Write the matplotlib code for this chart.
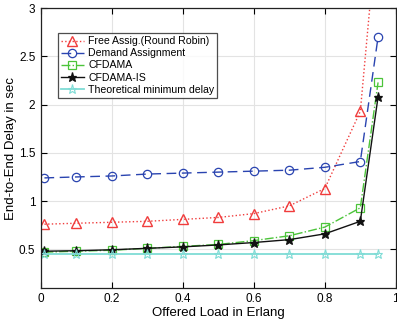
import matplotlib
matplotlib.use("Agg")
import matplotlib.pyplot as plt

plt.rcParams['font.family'] = ['Liberation Sans', 'DejaVu Sans']

load = [0.01, 0.1, 0.2, 0.3, 0.4, 0.5, 0.6, 0.7, 0.8, 0.9, 0.95]
free_assig = [0.76, 0.77, 0.78, 0.79, 0.81, 0.83, 0.87, 0.95, 1.13, 1.93, 3.95]
demand = [1.24, 1.25, 1.26, 1.28, 1.29, 1.30, 1.31, 1.32, 1.35, 1.41, 2.70]
cfdama = [0.47, 0.48, 0.49, 0.51, 0.53, 0.55, 0.59, 0.64, 0.73, 0.93, 2.23]
cfdama_is = [0.48, 0.485, 0.495, 0.51, 0.525, 0.545, 0.57, 0.60, 0.66, 0.79, 2.08]
theo = [0.45] * len(load)

labels = ['Free Assig.(Round Robin)', 'Demand Assignment', 'CFDAMA',
          'CFDAMA-IS', 'Theoretical minimum delay']

fig = plt.figure(figsize=(3.97, 3.26), dpi=100)
ax = fig.add_axes([0.103, 0.117, 0.894, 0.858])

ax.plot(load, free_assig, color='#f03c3c', linestyle=':', marker='^', ms=6.5,
        mfc='none', mew=1.0, lw=1.0, label=labels[0])
ax.plot(load, demand, color='#2a44b0', linestyle=(0, (7, 4)), marker='o', ms=6,
        mfc='none', mew=0.9, lw=1.0, label=labels[1])
ax.plot(load, cfdama, color='#4cc43a', linestyle='-.', marker='s', ms=5.5,
        mfc='none', mew=0.9, lw=1.0, label=labels[2])
ax.plot(load, cfdama_is, color='#111111', linestyle='-', marker='*', ms=6.5,
        mew=0.9, lw=1.0, label=labels[3])
ax.plot(load, theo, color='#7fdcd6', linestyle='-', marker='*', ms=6.5,
        mfc='none', mew=0.8, lw=1.3, label=labels[4])

ax.set_xlim(0, 1)
ax.set_ylim(0.1, 3)
ax.set_xticks([0, 0.2, 0.4, 0.6, 0.8, 1])
ax.set_xticklabels(['0', '0.2', '0.4', '0.6', '0.8', '1'])
ax.set_yticks([0.5, 1, 1.5, 2, 2.5, 3])
ax.set_yticklabels(['0.5', '1', '1.5', '2', '2.5', '3'])
ax.tick_params(direction='in', top=True, right=True, labelsize=8.5, length=4,
               width=0.8, pad=4)
ax.grid(True, color='#e3e3e3', lw=0.8)
ax.set_axisbelow(True)
for s in ax.spines.values():
    s.set_linewidth(0.9)
    s.set_color('#222222')

ax.set_xlabel('Offered Load in Erlang', fontsize=9.5, labelpad=1)
ax.set_ylabel('End-to-End Delay in sec', fontsize=9.5, labelpad=1)

leg = ax.legend(loc='upper left', bbox_to_anchor=(0.047, 0.911), fontsize=7.6,
                frameon=True, fancybox=False, edgecolor='#222222',
                borderpad=0.3, labelspacing=0.2, handlelength=2.2,
                handletextpad=0.4, borderaxespad=0)
leg.get_frame().set_linewidth(0.9)

fig.savefig('out.png', dpi=100)
